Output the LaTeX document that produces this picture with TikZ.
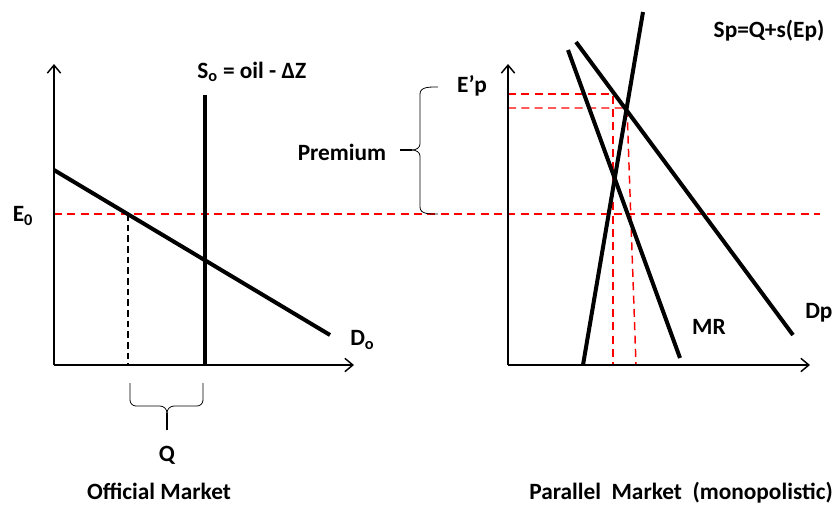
\documentclass[tikz,border=0pt]{standalone}
\usepackage{fontspec}
\setmainfont{Carlito}
\usetikzlibrary{arrows.meta}
\begin{document}
\begin{tikzpicture}[x=0.75pt,y=-0.75pt,
 lbl/.style={font=\bfseries\fontsize{17.5}{20}\selectfont, inner sep=0},
 axis/.style={line width=1.1pt,-{Straight Barb[length=6pt,width=10pt]}},
 curveline/.style={line width=3pt},
 reddash/.style={red, line width=1.1pt, dash pattern=on 6pt off 4pt},
 blackdash/.style={black, line width=1pt, dash pattern=on 5pt off 3pt},
 bracestyle/.style={line width=0.6pt}]
\useasboundingbox (0,0) rectangle (834,504);
% ---------- left chart ----------
\coordinate (O1) at (54,365);
\coordinate (Y1) at (54,64);
\coordinate (X1) at (354,365);
\coordinate (Da) at (54,170);
\coordinate (Db) at (330,335);
\coordinate (Sa) at (205,95);
\coordinate (Sb) at (205,365);
\coordinate (E0a) at (54,214);
\coordinate (E0b) at (820,214);
\coordinate (Qa) at (128,214);
\coordinate (Qb) at (128,365);
\draw[reddash] (E0a) -- (E0b);
\draw[blackdash] (Qa) -- (Qb);
\draw[axis] (O1) -- (Y1);
\draw[axis] (O1) -- (X1);
\draw[curveline] (Da) -- (Db);
\draw[curveline] (Sa) -- (Sb);
\node[lbl, anchor=west] (So) at (197,72) {S\textsubscript{o} = oil - ΔZ};
\node[lbl] (E0) at (23,216) {E\textsubscript{0}};
\node[lbl, anchor=west] (Do) at (350,340) {D\textsubscript{o}};
\node[lbl] (Q) at (167,455) {Q};
\node[lbl, anchor=base] (OM) at (159,499) {Official Market};
% Q brace
\coordinate (qb1) at (130,383);
\coordinate (qb2) at (203,383);
\coordinate (qtip) at (167,413);
\coordinate (qend) at (167,430);
\draw[bracestyle] (qb1) -- (130,400) to[out=-90,in=180] (136,406) -- (160,406) to[out=0,in=90] (qtip);
\draw[bracestyle] (qb2) -- (203,400) to[out=-90,in=0] (197,406) -- (174,406) to[out=180,in=90] (qtip);
\draw[line width=1pt] (qtip) -- (qend);
% Premium brace
\coordinate (pb1) at (438,87);
\coordinate (pb2) at (438,214);
\coordinate (ptip) at (412,150);
\coordinate (pend) at (400,150);
\draw[bracestyle] (pb1) to[out=180,in=90] (420,94) -- (420,144) to[out=-90,in=0] (ptip);
\draw[bracestyle] (pb2) to[out=180,in=-90] (420,207) -- (420,156) to[out=90,in=0] (ptip);
\draw[line width=1pt] (ptip) -- (pend);
\node[lbl] (Prem) at (342,152) {Premium};
\node[lbl] (Ep) at (472,86) {E’p};
% ---------- right chart ----------
\coordinate (O2) at (508,365);
\coordinate (Y2) at (508,64);
\coordinate (X2) at (810,365);
\coordinate (Spa) at (583,365);
\coordinate (Spb) at (643,12);
\coordinate (MRa) at (568,50);
\coordinate (MRb) at (680,358);
\coordinate (Dpa) at (576,42);
\coordinate (Dpb) at (793,335);
\coordinate (r1a) at (508,94);
\coordinate (r1b) at (613,94);
\coordinate (r1c) at (613,365);
\coordinate (r2a) at (508,108);
\coordinate (r2b) at (627,108);
\coordinate (r2c) at (636,365);
\draw[reddash] (r1a) -- (r1b) -- (r1c);
\draw[reddash] (r2a) -- (r2b) -- (r2c);
\draw[axis] (O2) -- (Y2);
\draw[axis] (O2) -- (X2);
\draw[curveline] (Spa) -- (Spb);
\draw[curveline] (MRa) -- (MRb);
\draw[curveline] (Dpa) -- (Dpb);
\node[lbl] (SpL) at (769,31) {Sp=Q+s(Ep)};
\node[lbl] (MR) at (709,327) {MR};
\node[lbl, anchor=west] (DpL) at (805,313) {Dp};
\node[lbl, anchor=base] (PM) at (681,499) {Parallel\ \ Market\ \ (monopolistic)};
\end{tikzpicture}
\end{document}
